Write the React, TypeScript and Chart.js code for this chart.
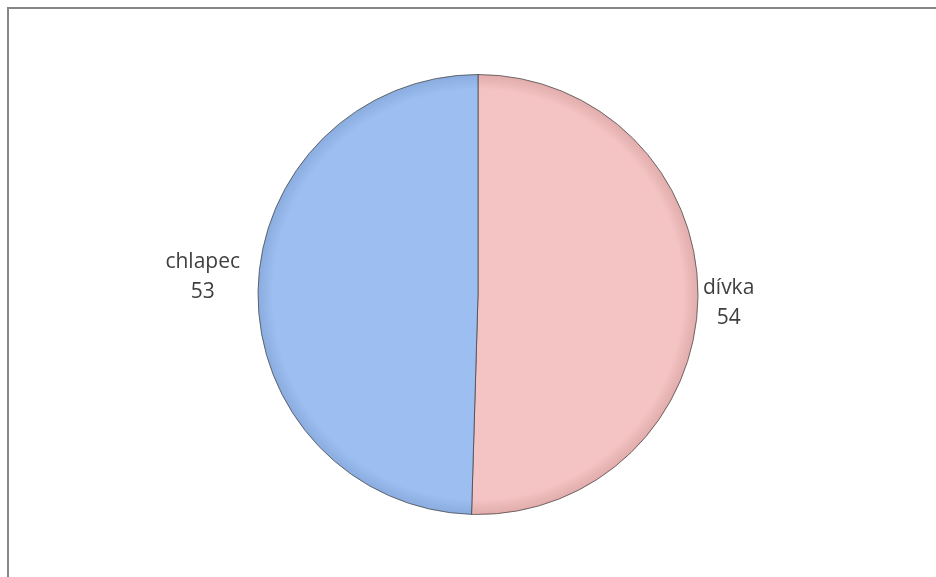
import React, { useEffect, useRef } from "react";
import { Chart, registerables } from "chart.js";

Chart.register(...registerables);

const categories = ["dívka", "chlapec"];
const values = [54, 53];
const colors = ["#F4C3C3", "#9CBEF0"];
const rimColors = ["#E0ABAB", "#89ABDD"];

const frameBorder = {
  id: "frameBorder",
  beforeDraw(chart: any) {
    const ctx = chart.ctx;
    ctx.save();
    ctx.strokeStyle = "#878787";
    ctx.lineWidth = 2;
    ctx.beginPath();
    ctx.moveTo(8, chart.height);
    ctx.lineTo(8, 8);
    ctx.lineTo(chart.width, 8);
    ctx.stroke();
    ctx.restore();
  },
};

const outsideLabels = {
  id: "outsideLabels",
  afterDatasetsDraw(chart: any) {
    const ctx = chart.ctx;
    const meta = chart.getDatasetMeta(0);
    ctx.save();
    ctx.font = "21px 'Open Sans'";
    ctx.fillStyle = "#404040";
    ctx.textBaseline = "middle";
    meta.data.forEach((arc: any, i: number) => {
      const { x, y, outerRadius, startAngle, endAngle } = arc.getProps(
        ["x", "y", "outerRadius", "startAngle", "endAngle"],
        true
      );
      const mid = (startAngle + endAngle) / 2;
      const right = Math.cos(mid) >= 0;
      const gap = right ? 5 : 18;
      const ax = x + Math.cos(mid) * (outerRadius + gap);
      const ay = y + Math.sin(mid) * outerRadius + (right ? 5 : -14);
      const l1 = categories[i];
      const l2 = String(values[i]);
      const w = Math.max(ctx.measureText(l1).width, ctx.measureText(l2).width);
      const cxText = right ? ax + w / 2 : ax - w / 2;
      ctx.textAlign = "center";
      ctx.fillText(l1, cxText, ay - 15);
      ctx.fillText(l2, cxText, ay + 15);
    });
    ctx.restore();
  },
};

export default function App() {
  const ref = useRef<HTMLCanvasElement>(null);
  useEffect(() => {
    document.body.style.margin = "0";
    const canvas = ref.current!;
    const chart = new Chart(canvas, {
      type: "pie",
      data: {
        labels: categories,
        datasets: [
          {
            data: values,
            backgroundColor: (c: any) => {
              const chart = c.chart;
              const area = chart.chartArea;
              if (!area) return colors[c.dataIndex];
              const cx = (area.left + area.right) / 2;
              const cy = (area.top + area.bottom) / 2;
              const r = Math.min(area.right - area.left, area.bottom - area.top) / 2;
              const g = chart.ctx.createRadialGradient(cx, cy, 0, cx, cy, r);
              const i = c.dataIndex;
              g.addColorStop(0, colors[i]);
              g.addColorStop(0.93, colors[i]);
              g.addColorStop(1, rimColors[i]);
              return g;
            },
            borderColor: "rgba(60,60,60,0.7)",
            borderWidth: 1,
          },
        ],
      },
      options: {
        responsive: false,
        animation: false,
        layout: { padding: { left: 178, right: 158, top: 74, bottom: 62 } },
        plugins: {
          legend: { display: false },
          tooltip: { enabled: false },
        },
      },
      plugins: [frameBorder, outsideLabels],
    });
    return () => chart.destroy();
  }, []);
  return <canvas ref={ref} width={936} height={577} style={{ display: "block" }} />;
}
